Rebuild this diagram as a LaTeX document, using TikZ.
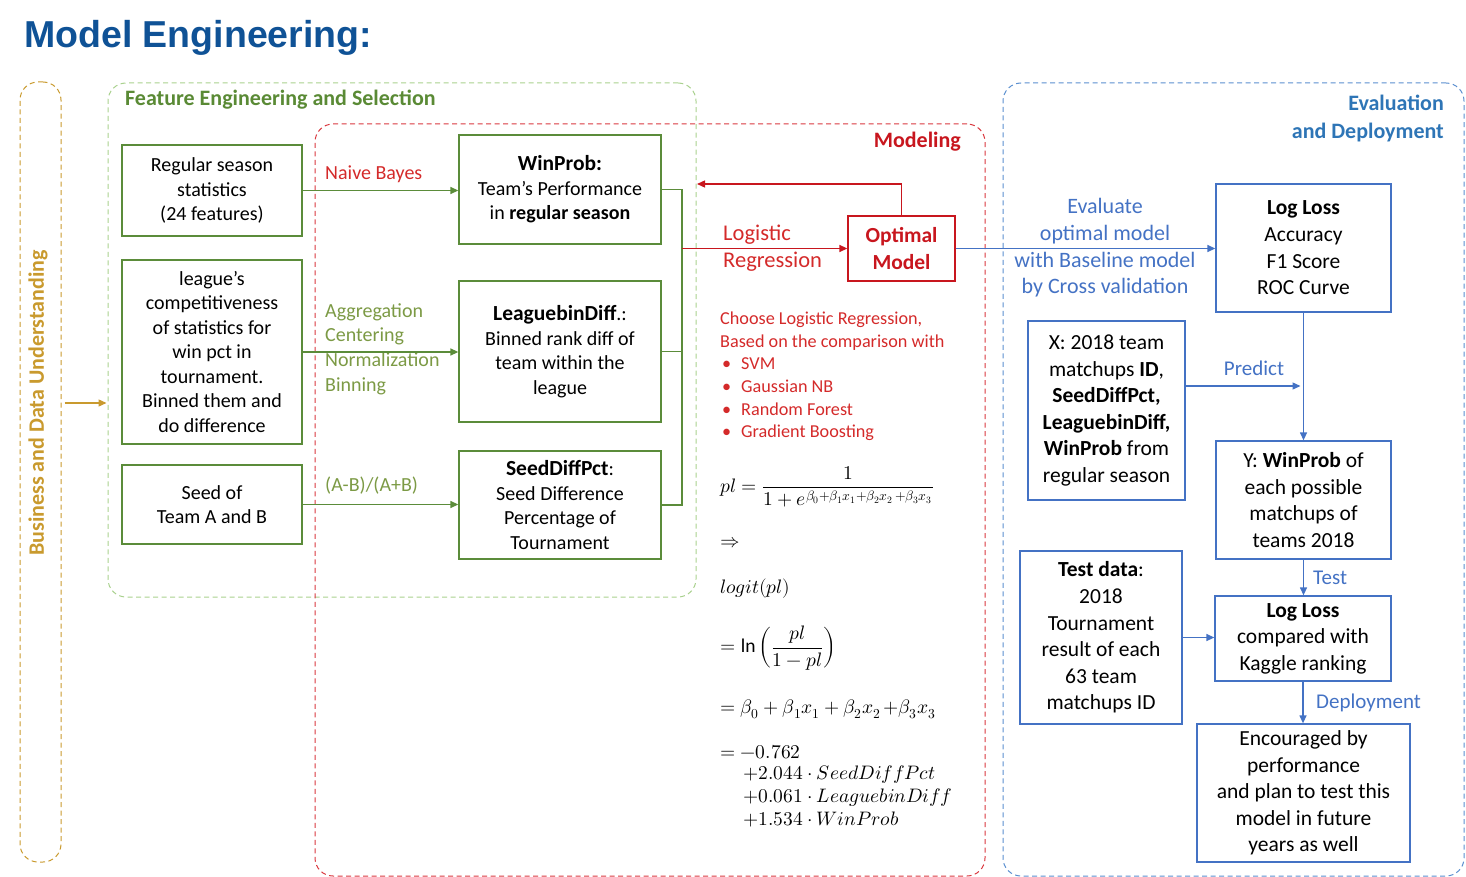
\documentclass[tikz,border=0pt]{standalone}
\usepackage{amsmath}
\usepackage{fontspec}
\usepackage{unicode-math}
\setmainfont{Carlito}
\setmathfont{Latin Modern Math}
\newfontfamily\arialfont{Liberation Sans}
\usetikzlibrary{arrows.meta}
\definecolor{ttl}{HTML}{0F5296}
\definecolor{gold}{HTML}{C99A2E}
\definecolor{lgreen}{HTML}{A9D18E}
\definecolor{dgreen}{HTML}{5A8A35}
\definecolor{bgreen}{HTML}{5B8C3A}
\definecolor{olive}{HTML}{7C9A45}
\definecolor{mred}{HTML}{C8161E}
\definecolor{fred}{HTML}{D9383F}
\definecolor{tred}{HTML}{D42A2A}
\definecolor{mblue}{HTML}{4472C4}
\definecolor{fblue}{HTML}{5B8FD0}
\definecolor{hblue}{HTML}{2E75B6}
\tikzset{
  frame/.style={dash pattern=on 5pt off 3.5pt, line width=1pt, rounded corners=18pt, inner sep=0pt},
  gbox/.style={draw=bgreen, line width=1.3pt, inner sep=0pt, align=center, font=\fontsize{20}{24.5}\selectfont},
  bbox/.style={draw=mblue, line width=1.3pt, inner sep=0pt, align=center, font=\fontsize{21.5}{26.6}\selectfont},
  rbox/.style={draw=mred, line width=1.3pt, inner sep=0pt, align=center, text=mred, font=\fontsize{21.5}{27}\selectfont\bfseries},
  head/.style={inner sep=0pt, font=\fontsize{22}{28}\selectfont\bfseries},
  lbl/.style={inner sep=0pt, font=\fontsize{20}{24.7}\selectfont},
  tip/.style={-{Triangle[length=8pt,width=7pt]}},
  garrow/.style={draw=bgreen, line width=1.3pt, tip},
  gline/.style={draw=bgreen, line width=1.3pt},
  rarrow/.style={draw=mred, line width=1.4pt, tip},
  barrow/.style={draw=mblue, line width=1.3pt, tip},
  oarrow/.style={draw=gold, line width=1.3pt, tip},
  mth/.style={anchor=west, inner sep=0pt, font=\fontsize{19.5}{23}\selectfont},
}
\begin{document}
\begin{tikzpicture}[x=1pt,y=-1pt]
\useasboundingbox (0,0) rectangle (1466,877);
% title
\node[anchor=west, inner sep=0pt, text=ttl, font=\arialfont\fontsize{37.5}{40}\selectfont\bfseries] (title) at (24,38) {Model Engineering:};
% frames
\node[frame, draw=gold, minimum width=41pt, minimum height=780pt] (bdu) at (40.5,472) {};
\node[frame, draw=lgreen, minimum width=588pt, minimum height=514pt] (fe) at (402,340) {};
\node[frame, draw=fred, minimum width=670pt, minimum height=752pt] (mod) at (650,500) {};
\node[frame, draw=fblue, minimum width=461pt, minimum height=793pt] (ev) at (1233.5,479.5) {};
% headings
\node[head, text=gold, rotate=90] (bdut) at (38,403) {Business and Data Understanding};
\node[head, text=dgreen, anchor=west] (fet) at (125,100) {Feature Engineering and Selection};
\node[head, text=mred, anchor=east] (modt) at (961,142) {Modeling};
\node[head, text=hblue, anchor=east, align=right] (evt) at (1444,118) {Evaluation\\and Deployment};
% green boxes
\node[gbox, minimum width=180pt, minimum height=91pt] (A) at (212,190.5) {Regular season\\statistics\\(24 features)};
\node[gbox, minimum width=180pt, minimum height=184pt] (B) at (212,352) {league's\\competitiveness\\of statistics for\\win pct in\\tournament.\\Binned them and\\do difference};
\node[gbox, minimum width=180pt, minimum height=79pt] (C) at (212,504.5) {Seed of\\Team A and B};
\node[gbox, minimum width=202pt, minimum height=109pt] (WP) at (560,189.5) {{\fontsize{21.5}{26}\selectfont\bfseries WinProb:}\\Team’s Performance\\in \textbf{regular season}};
\node[gbox, minimum width=202pt, minimum height=141pt] (LB) at (560,351.5) {{\fontsize{21.5}{26}\selectfont\bfseries LeaguebinDiff}.:\\Binned rank diff of\\team within the\\league};
\node[gbox, minimum width=202pt, minimum height=108pt] (SD) at (560,505) {{\fontsize{21.5}{26}\selectfont\bfseries SeedDiffPct}:\\Seed Difference\\Percentage of\\Tournament};
% red box
\node[rbox, minimum width=107pt, minimum height=65pt] (OM) at (901.5,248.5) {Optimal\\Model};
% blue boxes
\node[bbox, minimum width=175pt, minimum height=128pt] (LL1) at (1303.5,248) {\textbf{Log Loss}\\Accuracy\\F1 Score\\ROC Curve};
\node[bbox, minimum width=157pt, minimum height=179pt] (X) at (1106.5,410.5) {X: 2018 team\\matchups \textbf{ID},\\\textbf{SeedDiffPct,}\\\textbf{LeaguebinDiff,}\\\textbf{WinProb} from\\regular season};
\node[bbox, minimum width=175pt, minimum height=118pt] (Y) at (1303.5,500) {Y: \textbf{WinProb} of\\each possible\\matchups of\\teams 2018};
\node[bbox, minimum width=162pt, minimum height=173pt] (TD) at (1101,637.5) {\textbf{Test data}:\\2018\\Tournament\\result of each\\63 team\\matchups ID};
\node[bbox, minimum width=176pt, minimum height=85pt] (LL2) at (1303,638.5) {\textbf{Log Loss}\\compared with\\Kaggle ranking};
\node[bbox, minimum width=213pt, minimum height=138pt] (EN) at (1303.5,793) {Encouraged by\\performance\\and plan to test this\\model in future\\years as well};
% labels
\node[lbl, text=tred, anchor=west] (nb) at (325,174) {Naive Bayes};
\node[lbl, text=olive, anchor=west, align=left] (agg) at (325,349) {Aggregation\\Centering\\Normalization\\Binning};
\node[lbl, text=olive, anchor=west] (ab) at (325,486) {(A-B)/(A+B)};
\node[lbl, text=tred, anchor=west, align=left, font=\fontsize{22.5}{27}\selectfont] (lr) at (723,248.5) {Logistic\\Regression};
\node[lbl, text=mblue, align=center, font=\fontsize{22}{26.7}\selectfont] (evl) at (1105,248) {Evaluate\\optimal model\\with Baseline model\\by Cross validation};
\node[lbl, text=mblue, font=\fontsize{21}{26}\selectfont] (pr) at (1254,368) {Predict};
\node[lbl, text=mblue, anchor=west, font=\fontsize{21}{26}\selectfont] (ts) at (1313,578) {Test};
\node[lbl, text=mblue, anchor=west, font=\fontsize{21}{26}\selectfont] (dp) at (1316,703) {Deployment};
\node[lbl, text=tred, anchor=west, align=left, font=\fontsize{18.2}{22.6}\selectfont] (ch) at (720,376.5) {Choose Logistic Regression,\\Based on the comparison with\\\makebox[21pt][l]{\kern2pt\textbullet}SVM\\\makebox[21pt][l]{\kern2pt\textbullet}Gaussian NB\\\makebox[21pt][l]{\kern2pt\textbullet}Random Forest\\\makebox[21pt][l]{\kern2pt\textbullet}Gradient Boosting};
% math
\node[mth] (m1) at (720,487) {$pl=\dfrac{1}{1+e^{\beta_0+\beta_1x_1+\beta_2x_2\,+\beta_3x_3}}$};
\node[mth] (m2) at (720,543) {$\Rightarrow$};
\node[mth] (m3) at (720,589) {$logit(pl)$};
\node[mth] (m4) at (720,648) {$=\ln\left(\dfrac{pl}{1-pl}\right)$};
\node[mth] (m5) at (720,709) {$=\beta_0+\beta_1x_1+\beta_2x_2\,{+}\beta_3x_3$};
\node[mth] (m6) at (720,752) {$=-0.762$};
\node[mth] (m7) at (743,775) {$+2.044\cdot SeedDiffPct$};
\node[mth] (m8) at (743,798) {$+0.061\cdot LeaguebinDiff$};
\node[mth] (m9) at (743,820) {$+1.534\cdot WinProb$};
% connectors
\draw[oarrow, shorten <=3pt, shorten >=1pt] (bdut -| bdu.east) -- (bdut -| fe.west);
\draw[garrow] (A.east) -- (A.east -| WP.west);
\draw[garrow] (B.east) -- (B.east -| LB.west);
\draw[garrow] (C.east) -- (C.east -| SD.west);
\coordinate (bx) at (682,0);
\draw[gline] (WP.east) -- (WP.east -| bx) -- (SD.east -| bx) -- (SD.east);
\draw[gline] (LB.east) -- (LB.east -| bx);
\draw[rarrow] (bx |- OM.west) -- (OM.west);
\coordinate (fb) at (697,184);
\draw[rarrow] (OM.north) |- (fb);
\draw[barrow] (OM.east) -- (OM.east -| LL1.west);
\draw[barrow] (LL1.south) -- (Y.north);
\draw[barrow, shorten >=3pt] ([yshift=24.5pt]X.east) -- ([yshift=24.5pt]X.east -| LL1.south);
\draw[barrow] (Y.south) -- (Y.south |- LL2.north);
\draw[barrow] (TD.east) -- (TD.east -| LL2.west);
\draw[barrow] (LL2.south) -- (LL2.south |- EN.north);
\end{tikzpicture}
\end{document}
